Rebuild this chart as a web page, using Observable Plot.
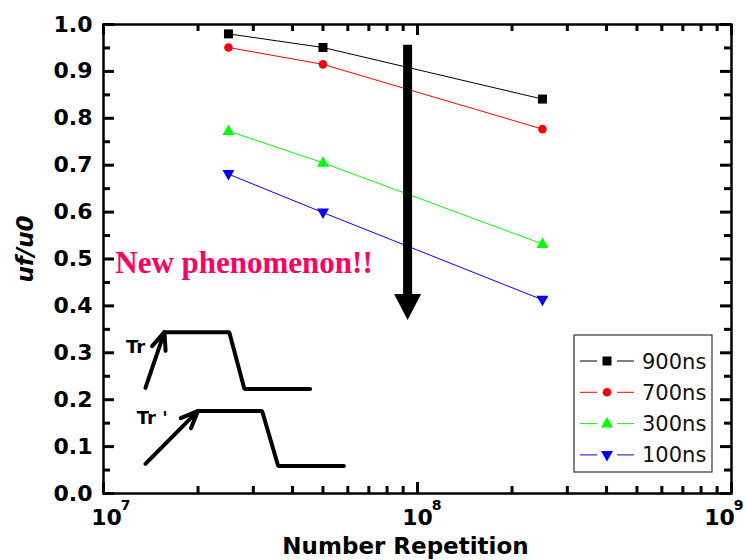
<!DOCTYPE html>
<html><head><meta charset="utf-8">
<script src="https://cdn.jsdelivr.net/npm/d3@7"></script>
<script src="https://cdn.jsdelivr.net/npm/@observablehq/plot@0.6"></script>
<style>
body{margin:0;background:#fff;}
#wrap{position:relative;width:745px;height:560px;overflow:hidden;}
#wrap svg{position:absolute;left:0;top:0;}
</style></head><body><div id="wrap"></div>
<script>
// ---- data ----
const repetitions = [2.5e7, 5e7, 2.5e8];
const seriesNames = ["900ns", "700ns", "300ns", "100ns"];
const v900 = [0.980, 0.951, 0.841];
const v700 = [0.951, 0.915, 0.777];
const v300 = [0.773, 0.705, 0.532];
const v100 = [0.681, 0.599, 0.413];
const seriesColors = ["#000000", "#ff0000", "#00ff00", "#0000ff"];
const yTicks = [0, 0.1, 0.2, 0.3, 0.4, 0.5, 0.6, 0.7, 0.8, 0.9, 1.0];
const yMinorTicks = [0.05, 0.15, 0.25, 0.35, 0.45, 0.55, 0.65, 0.75, 0.85, 0.95];
const xTicks = [1e7, 1e8, 1e9];
const xTickBase = ["10", "10", "10"];
const xTickExponents = ["7", "8", "9"];
const xMinorTicks = [2e7, 3e7, 4e7, 5e7, 6e7, 7e7, 8e7, 9e7, 2e8, 3e8, 4e8, 5e8, 6e8, 7e8, 8e8, 9e8];
const xLabel = "Number Repetition";
const yLabel = "uf/u0";
const noteText = "New phenomenon!!";
const noteAt = [1.09e7, 0.4915];
// big downward arrow (data coords)
const bigArrowX = 9.3e7, bigArrowTop = 0.956, bigArrowTip = 0.370;
// pulse sketches (data coords)
const trRise = [[1.36e7, 0.225], [1.563e7, 0.344]];
const trPulse = [[1.563e7, 0.344], [2.515e7, 0.344], [2.81e7, 0.223], [4.55e7, 0.223]];
const trLabel = ["Tr", 1.265e7, 0.312];
const tr2Rise = [[1.36e7, 0.063], [2.0e7, 0.176]];
const tr2Pulse = [[2.0e7, 0.176], [3.2e7, 0.176], [3.6e7, 0.0586], [5.83e7, 0.0586]];
const tr2Label = ["Tr '", 1.43e7, 0.161];

// ---- layout ----
const W = 745, H = 560, mL = 103, mR = 14, mT = 24, mB = 67;
const pw = W - mL - mR, ph = H - mT - mB;
const xLabelShift = [3, 0, -12];

// ---- build ----
const values = [v900, v700, v300, v100];
const rows = seriesNames.flatMap((s, i) => repetitions.map((r, j) => ({series: s, x: r, y: values[i][j]})));

const symSquare = {draw(c) { c.moveTo(-4.5, -4.5); c.lineTo(4.5, -4.5); c.lineTo(4.5, 4.5); c.lineTo(-4.5, 4.5); c.closePath(); }};
const symCircle = {draw(c) { c.moveTo(4.3, 0); c.arc(0, 0, 4.3, 0, 2 * Math.PI); }};
const symUp = {draw(c) { c.moveTo(0, -6.5); c.lineTo(6, 4); c.lineTo(-6, 4); c.closePath(); }};
const symDown = {draw(c) { c.moveTo(0, 6.5); c.lineTo(6, -4); c.lineTo(-6, -4); c.closePath(); }};
const symHead = {draw(c) { c.moveTo(0, 0); c.lineTo(13.5, -26); c.lineTo(-13.5, -26); c.closePath(); }};
const symbols = [symSquare, symCircle, symUp, symDown];

const pt = a => ({x: a[0], y: a[1]});
const sans = "DejaVu Sans";
const tk = {stroke: "#000000", strokeWidth: 3};

const chart = Plot.plot({
  width: W, height: H,
  marginLeft: mL, marginRight: mR, marginTop: mT, marginBottom: mB,
  x: {type: "log", domain: [1e7, 1e9], axis: null},
  y: {domain: [0, 1], axis: null},
  color: {domain: seriesNames, range: seriesColors},
  symbol: {domain: seriesNames, range: symbols},
  style: {background: "white", fontFamily: sans},
  marks: [
    // tick labels
    Plot.text(yTicks, {y: d => d, text: d3.format(".1f"), frameAnchor: "left", textAnchor: "end", dx: -11, fontSize: 22, fontWeight: "bold", fontFamily: sans}),
    ...xTicks.map((t, i) => Plot.text([t], {x: d => d, text: () => xTickBase[i], frameAnchor: "bottom", textAnchor: "middle", lineAnchor: "middle", dy: 24, dx: xLabelShift[i], fontSize: 22, fontWeight: "bold", fontFamily: sans})),
    ...xTicks.map((t, i) => Plot.text([t], {x: d => d, text: () => xTickExponents[i], frameAnchor: "bottom", textAnchor: "middle", lineAnchor: "middle", dy: 12, dx: xLabelShift[i] + 19, fontSize: 14, fontWeight: "bold", fontFamily: sans})),
    // axis titles
    Plot.text([xLabel], {text: d => d, frameAnchor: "bottom", textAnchor: "middle", lineAnchor: "middle", dy: 53, dx: -12, fontSize: 23, fontWeight: "bold", fontFamily: sans}),
    Plot.text([yLabel], {text: d => d, frameAnchor: "left", textAnchor: "middle", lineAnchor: "middle", dx: -78, dy: -10, rotate: -90, fontSize: 23, fontWeight: "bold", fontStyle: "italic", fontFamily: sans}),
    // series
    Plot.line(rows, {x: "x", y: "y", z: "series", stroke: "series", strokeWidth: 1}),
    Plot.dot(rows, {x: "x", y: "y", symbol: "series", fill: "series", stroke: null, r: 5}),
    // big arrow
    Plot.ruleX([bigArrowX], {x: d => d, y1: bigArrowTop, y2: bigArrowTip + 0.05, stroke: "black", strokeWidth: 9}),
    Plot.dot([bigArrowX], {x: d => d, y: bigArrowTip, symbol: symHead, fill: "black", stroke: null, r: 10}),
    // note
    Plot.text([noteText], {x: noteAt[0], y: noteAt[1], text: d => d, textAnchor: "start", fill: "#ff0066", fontSize: 31, fontWeight: "bold", fontFamily: "Liberation Serif"}),
    // pulse sketches
    Plot.line(trPulse.map(pt), {x: "x", y: "y", stroke: "black", strokeWidth: 4, strokeLinejoin: "miter"}),
    Plot.arrow([trRise], {x1: d => d[0][0], y1: d => d[0][1], x2: d => d[1][0], y2: d => d[1][1], stroke: "black", strokeWidth: 4, headLength: 7, headAngle: 45}),
    Plot.text([trLabel], {x: d => d[1], y: d => d[2], text: d => d[0], fontSize: 18, fontWeight: "bold", fontFamily: sans}),
    Plot.line(tr2Pulse.map(pt), {x: "x", y: "y", stroke: "black", strokeWidth: 4, strokeLinejoin: "miter"}),
    Plot.arrow([tr2Rise], {x1: d => d[0][0], y1: d => d[0][1], x2: d => d[1][0], y2: d => d[1][1], stroke: "black", strokeWidth: 4, headLength: 7, headAngle: 45}),
    Plot.text([tr2Label], {x: d => d[1], y: d => d[2], text: d => d[0], fontSize: 18, fontWeight: "bold", fontFamily: sans}),
    // frame
    Plot.frame({stroke: "black", strokeWidth: 2.5}),
    // inward ticks on all four sides (drawn last, on top)
    Plot.tickY(yTicks, {y: d => d, insetRight: pw - 11, ...tk}),
    Plot.tickY(yMinorTicks, {y: d => d, insetRight: pw - 7, ...tk}),
    Plot.tickY(yTicks, {y: d => d, insetLeft: pw - 11, ...tk}),
    Plot.tickY(yMinorTicks, {y: d => d, insetLeft: pw - 7, ...tk}),
    Plot.tickX(xTicks, {x: d => d, insetTop: ph - 11, ...tk}),
    Plot.tickX(xMinorTicks, {x: d => d, insetTop: ph - 7, ...tk}),
    Plot.tickX(xTicks, {x: d => d, insetBottom: ph - 11, ...tk}),
    Plot.tickX(xMinorTicks, {x: d => d, insetBottom: ph - 7, ...tk})
  ]
});
const wrap = document.getElementById("wrap");
wrap.appendChild(chart);

// ---- legend overlay ----
const ov = d3.select(wrap).append("svg").attr("width", W).attr("height", H);
const box = {x: 574, y: 335, w: 138, h: 137};
ov.append("rect").attr("x", box.x).attr("y", box.y).attr("width", box.w).attr("height", box.h)
  .attr("fill", "white").attr("stroke", "#333").attr("stroke-width", 1.2);
seriesNames.forEach((s, i) => {
  const cy = 361 + i * 31.3;
  const g = ov.append("g");
  g.append("line").attr("x1", 580).attr("x2", 597).attr("y1", cy).attr("y2", cy).attr("stroke", seriesColors[i]);
  g.append("line").attr("x1", 617).attr("x2", 634).attr("y1", cy).attr("y2", cy).attr("stroke", seriesColors[i]);
  g.append("path").attr("transform", `translate(607,${cy})`).attr("d", d3.symbol().type(symbols[i])()).attr("fill", seriesColors[i]);
  g.append("text").attr("x", 642).attr("y", cy).attr("dy", "0.36em").attr("font-family", sans).attr("font-size", 21).attr("fill", "#111").text(s);
});
</script></body></html>
